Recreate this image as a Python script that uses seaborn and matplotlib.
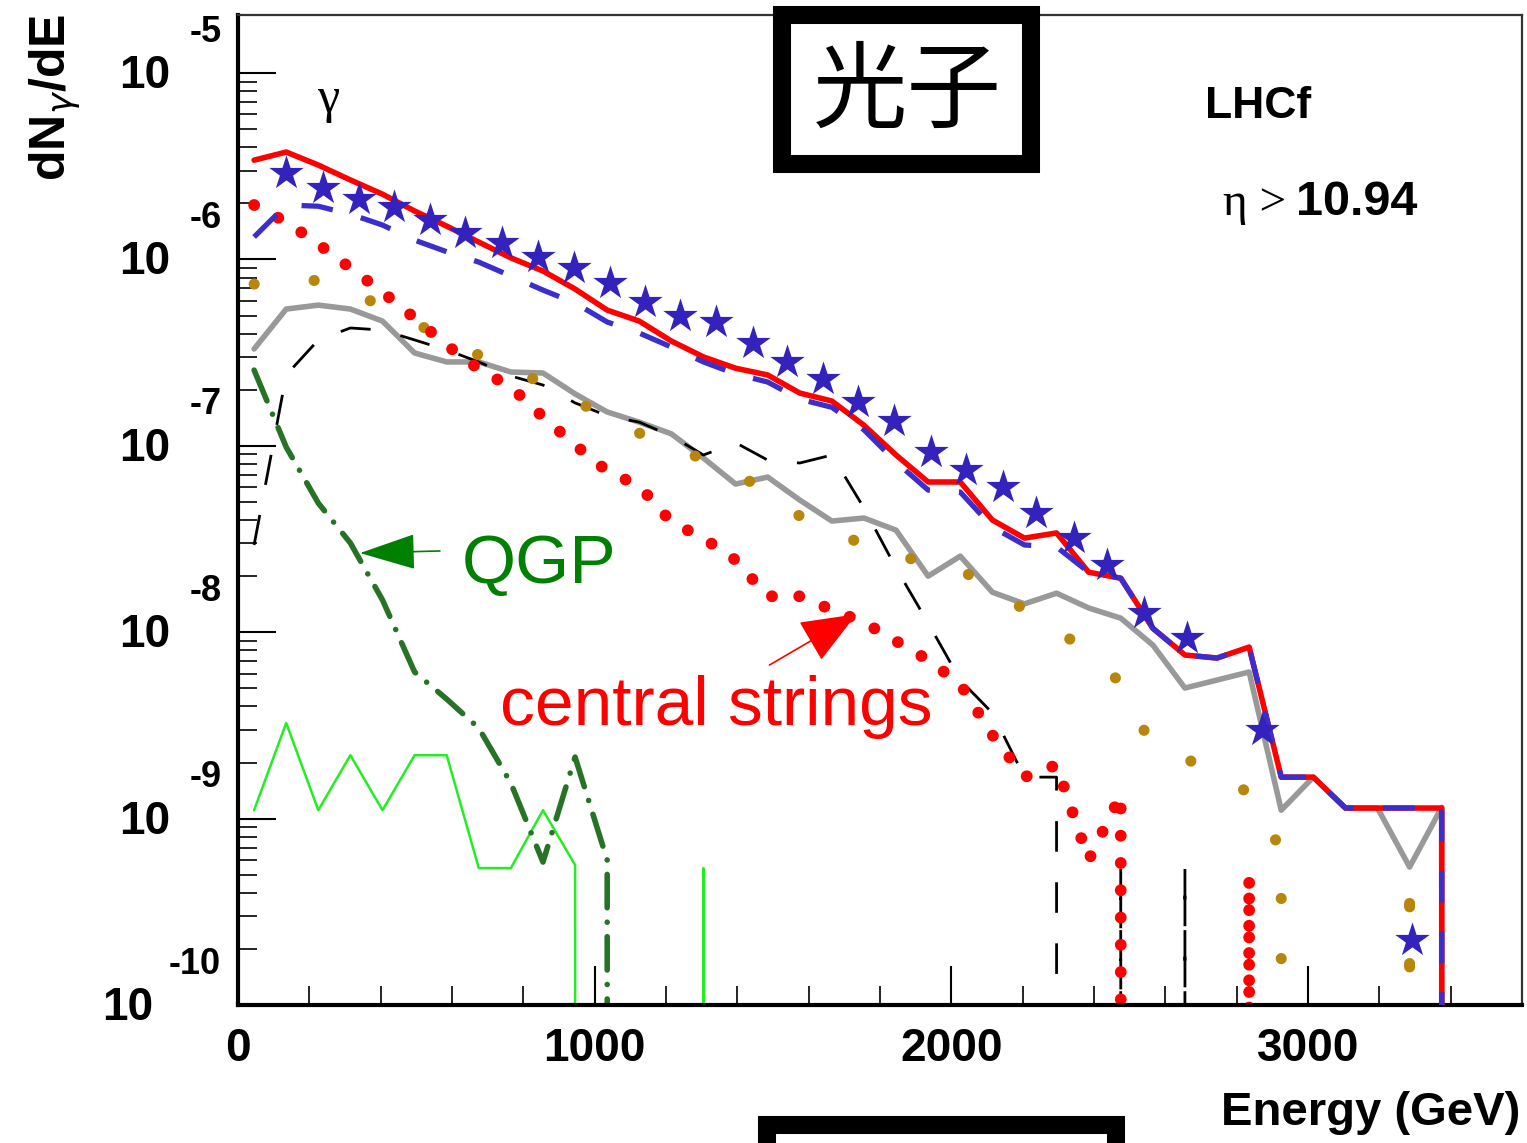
import numpy as np
import matplotlib
matplotlib.use('Agg')
import matplotlib.pyplot as plt
import matplotlib.transforms as mtransforms
from matplotlib.patches import Rectangle
from matplotlib.ticker import FixedLocator, MultipleLocator, NullFormatter
import seaborn as sns

# energy grid of the model curves (GeV)
energy = [45, 135, 225, 315, 405, 495, 585, 675, 765, 855, 945, 1035, 1125,
          1215, 1305, 1395, 1485, 1575, 1665, 1755, 1845, 1935, 2025, 2115,
          2205, 2295, 2385, 2475, 2565, 2655, 2745, 2835, 2925, 3015, 3105,
          3195, 3285, 3375, 3465]

# total (red solid)
total_red = [3.41e-6, 3.77e-6, 3.21e-6, 2.67e-6, 2.24e-6, 1.82e-6, 1.51e-6, 1.24e-6, 1.02e-6, 8.67e-7,
             6.94e-7, 5.35e-7, 4.67e-7, 3.65e-7, 3.0e-7, 2.61e-7, 2.40e-7, 1.92e-7, 1.74e-7, 1.29e-7,
             8.93e-8, 6.40e-8, 6.40e-8, 4.00e-8, 3.20e-8, 3.41e-8, 2.10e-8, 1.95e-8, 1.05e-8, 7.55e-9,
             7.27e-9, 8.33e-9, 1.67e-9, 1.67e-9, 1.14e-9, 1.14e-9, 1.14e-9, 1.14e-9, 0]
# blue long dashes
blue_dash = [1.32e-6, 1.96e-6, 1.93e-6, 1.75e-6, 1.53e-6, 1.27e-6, 1.10e-6, 9.68e-7, 8.15e-7, 6.85e-7,
             5.84e-7, 4.62e-7, 4.03e-7, 3.39e-7, 2.82e-7, 2.43e-7, 2.20e-7, 1.78e-7, 1.61e-7, 1.22e-7,
             8.19e-8, 5.79e-8, 5.65e-8, 3.67e-8, 2.94e-8, 2.87e-8, 2.10e-8, 1.95e-8, 1.05e-8, 7.55e-9,
             7.27e-9, 8.33e-9, 1.67e-9, 1.67e-9, 1.14e-9, 1.14e-9, 1.14e-9, 1.14e-9, 0]
# grey solid
grey = [3.31e-7, 5.42e-7, 5.69e-7, 5.42e-7, 4.67e-7, 3.15e-7, 2.82e-7, 2.82e-7, 2.49e-7, 2.46e-7,
        1.90e-7, 1.52e-7, 1.34e-7, 1.16e-7, 8.60e-8, 6.24e-8, 6.80e-8, 5.12e-8, 3.95e-8, 4.10e-8,
        3.53e-8, 2.00e-8, 2.56e-8, 1.64e-8, 1.42e-8, 1.62e-8, 1.35e-8, 1.19e-8, 8.54e-9, 5.02e-9,
        5.54e-9, 6.12e-9, 1.11e-9, 1.67e-9, 1.14e-9, 1.14e-9, 5.50e-10, 1.15e-9, 0]
# black dashes
black_dash = [2.94e-8, 2.40e-7, 3.70e-7, 4.29e-7, 4.18e-7, 3.70e-7, 3.27e-7, 2.82e-7, 2.37e-7, 2.12e-7,
              1.70e-7, 1.45e-7, 1.34e-7, 1.13e-7, 8.93e-8, 1.04e-7, 8.39e-8, 8.09e-8, 8.93e-8, 4.64e-8,
              2.21e-8, 1.12e-8, 5.54e-9, 3.69e-9, 1.67e-9, 1.67e-9, 0, 5.43e-10, 0, 5.50e-10,
              0, 0, 0, 0, 0, 0, 0, 0, 0]
# central strings (red dots)
central = [1.96e-6, 1.59e-6, 1.21e-6, 8.99e-7, 6.69e-7, 4.85e-7, 3.47e-7, 2.58e-7, 2.07e-7, 1.43e-7,
           1.01e-7, 7.33e-8, 6.09e-8, 3.90e-8, 3.20e-8, 2.44e-8, 1.56e-8, 1.56e-8, 1.32e-8, 1.13e-8,
           8.97e-9, 7.10e-9, 5.27e-9, 2.81e-9, 1.67e-9, 1.94e-9, 6.0e-10, 1.34e-9, 0, 0,
           0, 4.86e-10, 0, 0, 0, 0, 0, 0, 0]
# gold dots
gold = [7.38e-7, 7.47e-7, 7.75e-7, 6.69e-7, 5.62e-7, 4.62e-7, 3.65e-7, 3.07e-7, 2.58e-7, 2.17e-7,
        1.76e-7, 1.41e-7, 1.17e-7, 1.02e-7, 8.39e-8, 7.15e-8, 5.65e-8, 4.20e-8, 3.53e-8, 2.94e-8,
        2.60e-8, 2.35e-8, 2.16e-8, 1.73e-8, 1.32e-8, 1.03e-8, 7.83e-9, 5.34e-9, 2.39e-9, 2.11e-9,
        1.74e-9, 1.37e-9, 6.79e-10, 0, 0, 0, 4.98e-10, 0, 0]
# bright green solid
green_thin = [1.11e-9, 3.26e-9, 1.11e-9, 2.19e-9, 1.11e-9, 2.19e-9, 2.19e-9, 5.43e-10, 5.43e-10, 1.11e-9,
              5.64e-10, 0, 0, 0, 5.43e-10, 0, 0, 0, 0, 0,
              0, 0, 0, 0, 0, 0, 0, 0, 0, 0,
              0, 0, 0, 0, 0, 0, 0, 0, 0]
# QGP (dark green dash-dot)
qgp = [2.55e-7, 9.85e-8, 4.93e-8, 3.01e-8, 1.49e-8, 6.12e-9, 4.38e-9, 3.06e-9, 1.55e-9, 5.85e-10,
       2.14e-9, 6.0e-10, 0, 0, 0, 0, 0, 0, 0, 0,
       0, 0, 0, 0, 0, 0, 0, 0, 0, 0,
       0, 0, 0, 0, 0, 0, 0, 0, 0]

# LHCf stars
star_energy = [134, 238, 339, 437, 538, 636, 739, 840, 941, 1042, 1140, 1238, 1339, 1443,
               1538, 1639, 1739, 1840, 1944, 2042, 2146, 2238, 2345, 2437, 2541, 2661, 2871, 3291]
star_val = [2.91e-6, 2.42e-6, 2.11e-6, 1.91e-6, 1.63e-6, 1.39e-6, 1.23e-6, 1.03e-6, 9.0e-7, 7.47e-7,
            5.90e-7, 4.97e-7, 4.61e-7, 3.56e-7, 2.82e-7, 2.28e-7, 1.72e-7, 1.36e-7, 9.27e-8, 7.42e-8,
            6.01e-8, 4.36e-8, 3.20e-8, 2.29e-8, 1.27e-8, 9.3e-9, 2.99e-9, 2.23e-10]

decades = [-5, -6, -7, -8, -9, -10]
xtick_vals = [0, 1000, 2000, 3000]

sns.set_style('white')
plt.rcParams['font.family'] = ['Liberation Sans', 'Noto Sans CJK SC', 'DejaVu Sans']
for k in ['text.color', 'axes.labelcolor', 'xtick.color', 'ytick.color', 'axes.edgecolor']:
    plt.rcParams[k] = 'black'

fig = plt.figure(figsize=(15.27, 11.43), dpi=100)
ax = fig.add_axes([0.1559, 0.1207, 0.8408, 0.8662])

# curves
sns.lineplot(x=energy, y=grey, ax=ax, color='#999999', lw=4, estimator=None, zorder=2)
sns.lineplot(x=energy, y=black_dash, ax=ax, color='black', lw=2,
             linestyle=(0, (11, 11)), estimator=None, zorder=2.1)
sns.lineplot(x=energy, y=gold, ax=ax, color='#b8860b', lw=8, linestyle=(0, (0.01, 5.4)),
             dash_capstyle='round', estimator=None, zorder=2.2)
sns.lineplot(x=energy, y=central, ax=ax, color='red', lw=8.5, linestyle=(0, (0.01, 2.3)),
             dash_capstyle='round', estimator=None, zorder=2.3)
sns.lineplot(x=energy, y=green_thin, ax=ax, color='#22ee22', lw=1.8, estimator=None, zorder=2.4)
sns.lineplot(x=energy, y=qgp, ax=ax, color='#267326', lw=4,
             linestyle=(0, (6, 2.6, 0.01, 2.6)), dash_capstyle='round', estimator=None, zorder=2.5)
sns.lineplot(x=energy, y=total_red, ax=ax, color='red', lw=4, estimator=None, zorder=3)
sns.lineplot(x=energy, y=blue_dash, ax=ax, color='#3b2ecc', lw=3.8,
             linestyle=(0, (6, 5.5)), estimator=None, zorder=3.1)
sns.scatterplot(x=star_energy, y=star_val, ax=ax, marker='*', s=680, color='#3322bb',
                linewidth=0, zorder=4)

ax.set_yscale('log')
ax.set_xlim(0, 3600)
ax.set_ylim(1e-10, 2.05e-5)
ax.set_xlabel('')
ax.set_ylabel('')

# frame
for s in ['left', 'bottom']:
    ax.spines[s].set_linewidth(3)
for s in ['top', 'right']:
    ax.spines[s].set_linewidth(1.6)
    ax.spines[s].set_color('#333333')

# ticks
ax.xaxis.set_major_locator(FixedLocator(xtick_vals))
ax.xaxis.set_minor_locator(MultipleLocator(200))
ax.set_xticklabels([str(v) for v in xtick_vals], fontsize=33, fontweight='bold')
ax.tick_params(axis='x', which='major', direction='in', length=28, width=1.5,
               bottom=True, top=False, pad=16)
ax.tick_params(axis='x', which='minor', direction='in', length=14, width=1.2,
               bottom=True, top=False)

minor_y = [m * 10.0 ** e for e in range(-10, -5) for m in range(2, 10)]
ax.yaxis.set_major_locator(FixedLocator([10.0 ** e for e in decades]))
ax.yaxis.set_minor_locator(FixedLocator(minor_y))
ax.yaxis.set_major_formatter(NullFormatter())
ax.yaxis.set_minor_formatter(NullFormatter())
ax.tick_params(axis='y', which='major', direction='in', length=27, width=1.5, left=True, right=False)
ax.tick_params(axis='y', which='minor', direction='in', length=14, width=1.2, left=True, right=False)

# ROOT style "10 ^ exponent" labels
trans = mtransforms.blended_transform_factory(fig.transFigure, ax.transData)
for e in decades:
    x10, xe = (0.0838, 0.1277) if e == -10 else (0.0950, 0.1349)
    ax.text(x10, 10.0 ** (e - 0.016), '10', transform=trans, ha='center', va='center',
            fontsize=33, fontweight='bold', clip_on=False)
    ax.text(xe, 10.0 ** (e + 0.22), str(e), transform=trans, ha='center', va='center',
            fontsize=26, fontweight='bold', clip_on=False)

fig.text(0.036, 0.9143, r'dN$_{\gamma}$/dE', rotation=90, ha='center', va='center',
         fontsize=36, fontweight='bold')
fig.text(0.9954, 0.0157, 'Energy (GeV)', ha='right', va='baseline', fontsize=34, fontweight='bold')

# labels inside the frame
ax.text(0.0701, 0.902, 'γ', transform=ax.transAxes, ha='center', va='baseline',
        fontsize=36, family='Liberation Serif')
ax.text(0.7531, 0.896, 'LHCf', transform=ax.transAxes, va='baseline', fontsize=32, fontweight='bold')
ax.text(0.8162, 0.798, 'η >', transform=ax.transAxes, ha='right', va='baseline',
        fontsize=34, family='Liberation Serif')
ax.text(0.8240, 0.798, '10.94', transform=ax.transAxes, va='baseline', fontsize=35, fontweight='bold')
ax.text(0.1745, 0.4263, 'QGP', transform=ax.transAxes, va='baseline', fontsize=50, color='#008000')
ax.text(0.2040, 0.2828, 'central strings', transform=ax.transAxes, va='baseline',
        fontsize=50, color='red')

ax.annotate('', xy=(342, 2.66e-8), xytext=(566, 2.73e-8),
            arrowprops=dict(arrowstyle='-|>,head_length=3.6,head_width=1.15', color='#008000',
                            lw=1.2, shrinkA=0, shrinkB=0, mutation_scale=10))
ax.annotate('', xy=(1734, 1.25e-8), xytext=(1490, 6.67e-9),
            arrowprops=dict(arrowstyle='-|>,head_length=3.6,head_width=1.45', color='red',
                            lw=1.2, shrinkA=0, shrinkB=0, mutation_scale=10))

# boxes
fig.add_artist(Rectangle((0.5121, 0.8565), 0.1631, 0.1304, transform=fig.transFigure,
                         facecolor='white', edgecolor='black', lw=13, zorder=10))
fig.text(0.594, 0.919, '光子', ha='center', va='center', fontsize=68,
         family=['Noto Sans CJK SC', 'DejaVu Sans'], zorder=11)
fig.add_artist(Rectangle((0.5023, -0.05), 0.2286, 0.0657, transform=fig.transFigure,
                         facecolor='white', edgecolor='black', lw=13, zorder=10))

fig.savefig('out.png', dpi=100)
